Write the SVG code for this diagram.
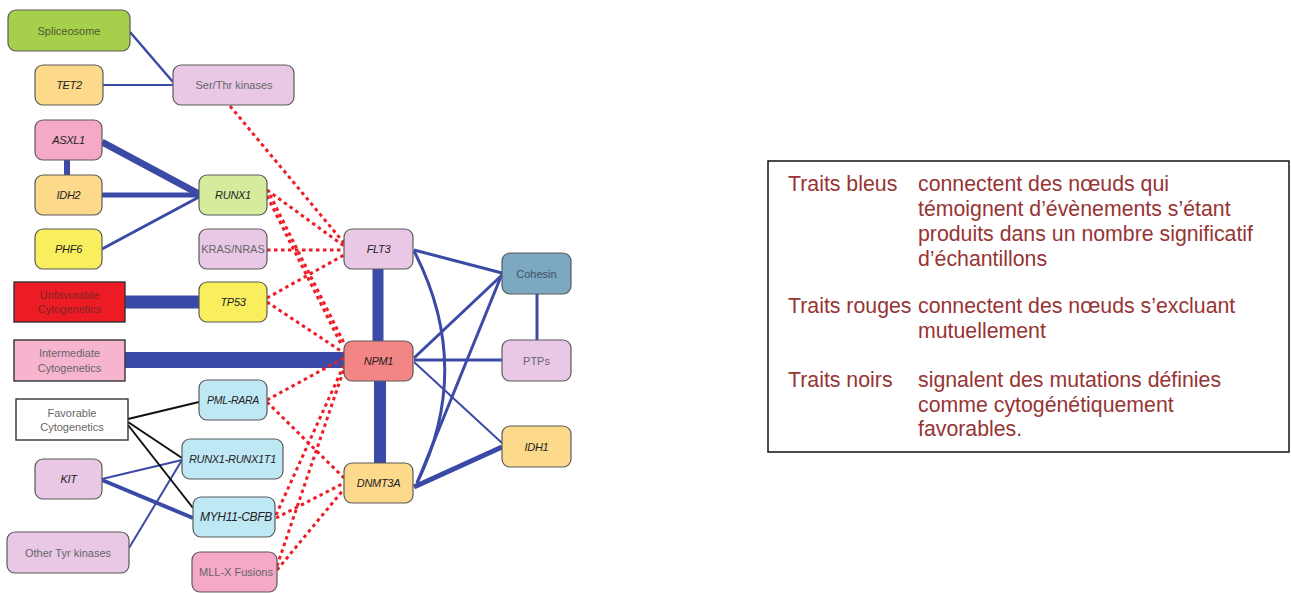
<svg xmlns="http://www.w3.org/2000/svg" width="1291" height="593" viewBox="0 0 1291 593">
<style>
.n rect{stroke:#5a5a5a;stroke-width:1.2}
.c rect{stroke:#333;stroke-width:1.4}
text{font-family:"Liberation Sans",Arial,sans-serif;font-size:11px;text-anchor:middle;dominant-baseline:central}
.t{fill:#666}
.g{fill:#222;font-style:italic;letter-spacing:-0.3px}
.b{stroke:#3b4aa6;fill:none;stroke-linecap:butt}
.k{stroke:#111;fill:none;stroke-width:2}
.r{stroke:#ee1c25;fill:none;stroke-width:3;stroke-dasharray:3.5 3.5}
.lg{font-size:21.3px;fill:#973434;text-anchor:start;dominant-baseline:alphabetic}
</style>
<rect width="1291" height="593" fill="#fff"/>
<g id="connectors">
  <g id="blue">
    <line class="b" x1="130" y1="32" x2="173" y2="82" stroke-width="2.5"/>
    <line class="b" x1="103" y1="85" x2="173" y2="85" stroke-width="2"/>
    <line class="b" x1="102" y1="142" x2="199" y2="194" stroke-width="7"/>
    <line class="b" x1="67" y1="160" x2="67" y2="175" stroke-width="6"/>
    <line class="b" x1="102" y1="195" x2="199" y2="195" stroke-width="5"/>
    <line class="b" x1="102" y1="249" x2="199" y2="197" stroke-width="3"/>
    <line class="b" x1="125" y1="302" x2="199" y2="302" stroke-width="13"/>
    <line class="b" x1="125" y1="360" x2="344" y2="360" stroke-width="16"/>
    <line class="b" x1="378" y1="269" x2="378" y2="341" stroke-width="11"/>
    <line class="b" x1="380" y1="381" x2="380" y2="463" stroke-width="12"/>
    <line class="b" x1="414" y1="250" x2="502" y2="273" stroke-width="3"/>
    <path class="b" d="M414,251 Q474,367 417,483" stroke-width="3"/>
    <line class="b" x1="417" y1="483" x2="502" y2="274" stroke-width="3"/>
    <line class="b" x1="414" y1="358" x2="502" y2="275" stroke-width="3"/>
    <line class="b" x1="414" y1="360" x2="502" y2="360" stroke-width="3"/>
    <line class="b" x1="414" y1="362" x2="502" y2="443" stroke-width="2"/>
    <line class="b" x1="414" y1="487" x2="502" y2="447" stroke-width="5"/>
    <line class="b" x1="537" y1="294" x2="537" y2="340" stroke-width="3"/>
    <line class="b" x1="102" y1="479" x2="182" y2="460" stroke-width="2"/>
    <line class="b" x1="102" y1="480" x2="193" y2="518" stroke-width="4"/>
    <line class="b" x1="129" y1="548" x2="182" y2="460" stroke-width="2"/>
  </g>
  <g id="black">
    <line class="k" x1="128" y1="419" x2="199" y2="402"/>
    <line class="k" x1="128" y1="422" x2="182" y2="458"/>
    <line class="k" x1="128" y1="425" x2="193" y2="508"/>
  </g>
  <g id="red">
    <line class="r" x1="230" y1="106" x2="344" y2="243"/>
    <line class="r" x1="267" y1="190" x2="344" y2="246" stroke-width="2"/>
    <line class="r" x1="267" y1="196" x2="342" y2="346"/>
    <line class="r" x1="270" y1="195" x2="345" y2="345"/>
    <line class="r" x1="267" y1="250" x2="344" y2="250"/>
    <line class="r" x1="267" y1="298" x2="344" y2="255"/>
    <line class="r" x1="267" y1="302" x2="344" y2="353"/>
    <line class="r" x1="267" y1="400" x2="344" y2="358"/>
    <line class="r" x1="267" y1="402" x2="344" y2="478"/>
    <line class="r" x1="276" y1="515" x2="344" y2="365"/>
    <line class="r" x1="276" y1="518" x2="344" y2="483"/>
    <line class="r" x1="277" y1="566" x2="344" y2="369"/>
    <line class="r" x1="277" y1="570" x2="344" y2="489" stroke-width="2.5"/>
  </g>
</g>
<g id="spliceosome" class="n"><rect x="8" y="10" width="122" height="41" rx="8" fill="#a6cf4b"/><text class="t" x="69" y="31" style="fill:#4d5a30">Spliceosome</text></g>
<g id="tet2" class="n"><rect x="35" y="65" width="68" height="40" rx="8" fill="#fcd98b"/><text class="g" x="69" y="85">TET2</text></g>
<g id="serthr" class="n"><rect x="173" y="65" width="121" height="40" rx="8" fill="#e9c8e6"/><text class="t" x="234" y="85">Ser/Thr kinases</text></g>
<g id="asxl1" class="n"><rect x="35" y="120" width="67" height="40" rx="8" fill="#f5a9c7"/><text class="g" x="68.5" y="140">ASXL1</text></g>
<g id="idh2" class="n"><rect x="35" y="175" width="67" height="40" rx="8" fill="#fcd98b"/><text class="g" x="68.5" y="195">IDH2</text></g>
<g id="runx1" class="n"><rect x="199" y="175" width="68" height="40" rx="8" fill="#d5ec9d"/><text class="g" x="233" y="195">RUNX1</text></g>
<g id="phf6" class="n"><rect x="35" y="229" width="67" height="40" rx="8" fill="#f8ee5e"/><text class="g" x="68.5" y="249">PHF6</text></g>
<g id="kras" class="n"><rect x="199" y="229" width="68" height="40" rx="8" fill="#e9c8e6"/><text class="t" x="233" y="249">KRAS/NRAS</text></g>
<g id="unfavorable" class="c"><rect x="14" y="282" width="111" height="40" fill="#ed1c24"/><text x="69.5" y="295" style="fill:#7d2424">Unfavorable</text><text x="69.5" y="309" style="fill:#7d2424">Cytogenetics</text></g>
<g id="tp53" class="n"><rect x="199" y="282" width="68" height="40" rx="8" fill="#f8ee5e"/><text class="g" x="233" y="302">TP53</text></g>
<g id="intermediate" class="c"><rect x="14" y="340" width="111" height="41" fill="#f7b4cf"/><text class="t" x="69.5" y="353">Intermediate</text><text class="t" x="69.5" y="368">Cytogenetics</text></g>
<g id="pmlrara" class="n"><rect x="199" y="380" width="68" height="40" rx="8" fill="#bfe8f5"/><text class="g" x="233" y="400" style="font-size:10.5px">PML-RARA</text></g>
<g id="favorable" class="c"><rect x="16" y="399" width="112" height="41" fill="#fff"/><text class="t" x="72" y="413">Favorable</text><text class="t" x="72" y="427">Cytogenetics</text></g>
<g id="runx1runx1t1" class="n"><rect x="182" y="439" width="101" height="40" rx="8" fill="#bfe8f5"/><text class="g" x="232.5" y="459">RUNX1-RUNX1T1</text></g>
<g id="kit" class="n"><rect x="35" y="459" width="67" height="40" rx="8" fill="#e9c8e6"/><text class="g" x="68.5" y="479">KIT</text></g>
<g id="myh11" class="n"><rect x="193" y="497" width="82" height="40" rx="8" fill="#bfe8f5"/><text class="g" x="236" y="517" style="font-size:12px">MYH11-CBFB</text></g>
<g id="othertyr" class="n"><rect x="7" y="532" width="122" height="41" rx="8" fill="#e9c8e6"/><text class="t" x="68" y="552.5">Other Tyr kinases</text></g>
<g id="mllx" class="n"><rect x="192" y="552" width="85" height="40" rx="8" fill="#f5a9c7"/><text class="t" x="236" y="572">MLL-X Fusions</text></g>
<g id="flt3" class="n"><rect x="344" y="229" width="69" height="40" rx="8" fill="#e9c8e6"/><text class="g" x="378.5" y="249">FLT3</text></g>
<g id="npm1" class="n"><rect x="344" y="341" width="69" height="40" rx="8" fill="#f48585"/><text class="g" x="378.5" y="361">NPM1</text></g>
<g id="dnmt3a" class="n"><rect x="344" y="463" width="69" height="40" rx="8" fill="#fcd98b"/><text class="g" x="378.5" y="483">DNMT3A</text></g>
<g id="cohesin" class="n"><rect x="502" y="253" width="69" height="41" rx="8" fill="#7ca8c2"/><text class="t" x="536.5" y="273.5" style="fill:#3e5060">Cohesin</text></g>
<g id="ptps" class="n"><rect x="502" y="340" width="69" height="41" rx="8" fill="#e9c8e6"/><text class="t" x="536.5" y="360.5">PTPs</text></g>
<g id="idh1" class="n"><rect x="502" y="426" width="69" height="41" rx="8" fill="#fcd98b"/><text class="g" x="536.5" y="446.5">IDH1</text></g>
<g id="legend">
  <rect x="768" y="161" width="521" height="291" fill="#fff" stroke="#111" stroke-width="1.5"/>
  <text class="lg" x="788" y="191">Traits bleus</text>
  <text class="lg" x="918" y="191">connectent des nœuds qui</text>
  <text class="lg" x="918" y="216">témoignent d’évènements s’étant</text>
  <text class="lg" x="918" y="241">produits dans un nombre significatif</text>
  <text class="lg" x="918" y="266">d’échantillons</text>
  <text class="lg" x="788" y="313">Traits rouges</text>
  <text class="lg" x="918" y="313">connectent des nœuds s’excluant</text>
  <text class="lg" x="918" y="338">mutuellement</text>
  <text class="lg" x="788" y="387">Traits noirs</text>
  <text class="lg" x="918" y="387">signalent des mutations définies</text>
  <text class="lg" x="918" y="412">comme cytogénétiquement</text>
  <text class="lg" x="918" y="436">favorables.</text>
</g>
</svg>
